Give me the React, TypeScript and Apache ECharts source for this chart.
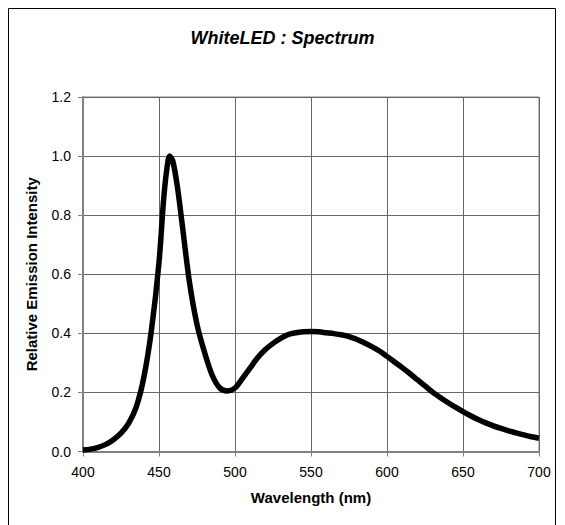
import React, { useEffect, useRef } from "react";
import * as echarts from "echarts";

const wavelengths = [
  400, 405, 410, 415, 420, 425, 430, 435, 440, 445, 450, 453, 455, 457, 459, 462,
  465, 470, 475, 480, 485, 490, 495, 500, 505, 510, 515, 520, 525, 530, 535, 540,
  545, 550, 555, 560, 565, 570, 575, 580, 585, 590, 595, 600, 605, 610, 615, 620,
  625, 630, 635, 640, 645, 650, 655, 660, 665, 670, 675, 680, 685, 690, 695, 700,
];
const intensity = [
  0.005, 0.008, 0.014, 0.024, 0.04, 0.062, 0.095, 0.15, 0.25, 0.41, 0.64, 0.85, 0.95, 1.0, 0.985, 0.9,
  0.78, 0.575, 0.43, 0.335, 0.258, 0.215, 0.205, 0.215, 0.248, 0.283, 0.318, 0.345, 0.366, 0.383, 0.396, 0.402,
  0.405, 0.406, 0.405, 0.402, 0.399, 0.395, 0.389, 0.38, 0.368, 0.355, 0.34, 0.322, 0.303, 0.284, 0.264, 0.243,
  0.222, 0.201, 0.183, 0.166, 0.15, 0.135, 0.121, 0.108, 0.097, 0.087, 0.078, 0.07, 0.063, 0.056, 0.05, 0.045,
];

const titleText = "WhiteLED : Spectrum";
const xName = "Wavelength (nm)";
const yName = "Relative Emission Intensity";

export default function App() {
  const ref = useRef<HTMLDivElement>(null);
  useEffect(() => {
    if (!ref.current) return;
    const chart = echarts.init(ref.current, null, { renderer: "svg" });
    const font = "Liberation Sans, Arial, sans-serif";
    chart.setOption({
      animation: false,
      backgroundColor: "#ffffff",
      title: {
        text: titleText,
        left: "center",
        top: 24,
        textStyle: { fontFamily: font, fontSize: 18, fontWeight: "bold", fontStyle: "italic", color: "#000" },
      },
      graphic: [
        {
          type: "rect",
          shape: { x: 8.5, y: 8.5, width: 547, height: 540 },
          style: { fill: "none", stroke: "#000", lineWidth: 1 },
          silent: true,
        },
      ],
      grid: { left: 83, right: 26, top: 97, bottom: 73.5, show: true, borderColor: "#808080", borderWidth: 1, backgroundColor: "transparent" },
      xAxis: {
        type: "value",
        min: 400,
        max: 700,
        interval: 50,
        name: xName,
        nameLocation: "middle",
        nameGap: 38,
        nameTextStyle: { fontFamily: font, fontSize: 15, fontWeight: "bold", color: "#000" },
        axisLine: { show: true, lineStyle: { color: "#808080", width: 2 } },
        axisTick: { show: true, inside: false, length: 5, lineStyle: { color: "#808080", width: 1 } },
        axisLabel: { fontFamily: font, fontSize: 14, color: "#000", margin: 13 },
        splitLine: { show: true, lineStyle: { color: "#666", width: 1 } },
      },
      yAxis: {
        type: "value",
        min: 0,
        max: 1.2,
        interval: 0.2,
        name: yName,
        nameLocation: "middle",
        nameGap: 44,
        nameTextStyle: { fontFamily: font, fontSize: 15, fontWeight: "bold", color: "#000" },
        axisLine: { show: true, lineStyle: { color: "#808080", width: 2 } },
        axisTick: { show: true, inside: false, length: 5, lineStyle: { color: "#808080", width: 1 } },
        axisLabel: { fontFamily: font, fontSize: 14, color: "#000", margin: 12, formatter: (v: number) => v.toFixed(1) },
        splitLine: { show: true, lineStyle: { color: "#666", width: 1 } },
      },
      series: [
        {
          type: "line",
          data: wavelengths.map((w, i) => [w, intensity[i]]),
          smooth: 0.3,
          symbol: "none",
          lineStyle: { color: "#000", width: 5.5 },
        },
      ],
    });
    return () => chart.dispose();
  }, []);
  return <div ref={ref} style={{ position: "fixed", left: 0, top: 0, width: 565, height: 525 }} />;
}
